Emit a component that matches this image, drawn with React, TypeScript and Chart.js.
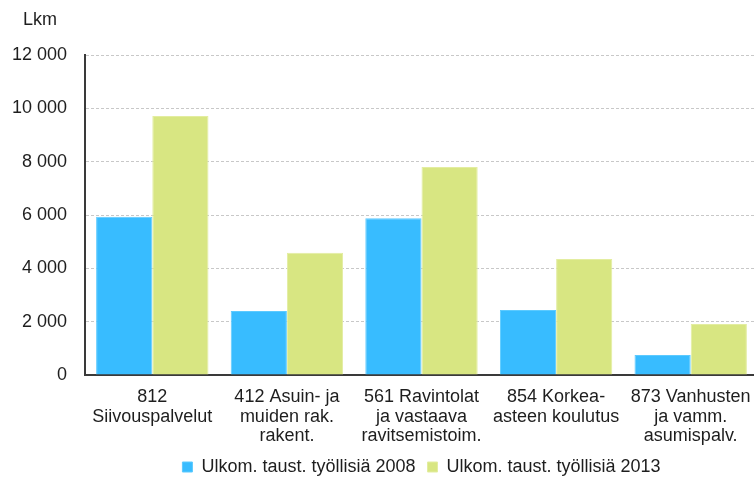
import React, { useEffect, useRef } from "react";
import { Chart, registerables } from "chart.js";

Chart.register(...registerables);

const categories: string[][] = [
  ["812", "Siivouspalvelut"],
  ["412 Asuin- ja", "muiden rak.", "rakent."],
  ["561 Ravintolat", "ja vastaava", "ravitsemistoim."],
  ["854 Korkea-", "asteen koulutus"],
  ["873 Vanhusten", "ja vamm.", "asumispalv."],
];

const series2008Label = "Ulkom. taust. työllisiä 2008";
const series2013Label = "Ulkom. taust. työllisiä 2013";
const values2008: number[] = [5930, 2400, 5880, 2440, 750];
const values2013: number[] = [9710, 4580, 7800, 4350, 1910];

const yMin = 0;
const yMax = 12000;
const yStep = 2000;
const yTitle = "Lkm";

const FONT = "'Liberation Sans', Arial, sans-serif";
const TEXT = "#1e1e1e";

const unitLabelPlugin = {
  id: "unitLabel",
  afterDraw(chart: any) {
    const ctx = chart.ctx;
    ctx.save();
    ctx.font = `18px ${FONT}`;
    ctx.fillStyle = TEXT;
    ctx.textAlign = "left";
    ctx.textBaseline = "middle";
    ctx.fillText(yTitle, 23, 20);
    ctx.restore();
  },
};

export default function App() {
  const ref = useRef<HTMLCanvasElement | null>(null);

  useEffect(() => {
    if (!ref.current) return;
    const chart = new Chart(ref.current, {
      type: "bar",
      data: {
        labels: categories,
        datasets: [
          {
            label: series2008Label,
            data: values2008,
            backgroundColor: "#38bcff",
            borderColor: "#5ccaff",
            borderWidth: 1,
            categoryPercentage: 0.835,
            barPercentage: 1.0,
          },
          {
            label: series2013Label,
            data: values2013,
            backgroundColor: "#d8e682",
            borderColor: "#e3eda0",
            borderWidth: 1,
            categoryPercentage: 0.835,
            barPercentage: 1.0,
          },
        ],
      },
      plugins: [unitLabelPlugin],
      options: {
        responsive: false,
        animation: false,
        layout: { padding: { left: 0, right: 0, top: 55, bottom: 0 } },
        plugins: {
          tooltip: { enabled: false },
          title: { display: false },
          legend: {
            position: "bottom",
            fullSize: false,
            labels: {
              color: TEXT,
              font: { family: FONT, size: 18 },
              boxWidth: 10,
              boxHeight: 10,
              padding: 12,
            },
          },
        },
        scales: {
          x: {
            grid: { display: false, drawTicks: false },
            border: { display: true, color: "#3a3a3a", width: 2 },
            ticks: {
              color: TEXT,
              font: { family: FONT, size: 18, lineHeight: 1.1 },
              padding: 12,
              maxRotation: 0,
              autoSkip: false,
            },
            afterFit: (s: any) => {
              s.height = 71;
              s.paddingLeft = 0;
              s.paddingRight = 0;
            },
          },
          y: {
            min: yMin,
            max: yMax,
            grid: {
              color: "#c8c8c8",
              lineWidth: 1,
              drawTicks: false,
            },
            border: { display: true, color: "#3a3a3a", width: 2, dash: [3, 2] },
            ticks: {
              stepSize: yStep,
              color: TEXT,
              font: { family: FONT, size: 18 },
              padding: 18,
              callback: (v: any) =>
                String(v).replace(/\B(?=(\d{3})+(?!\d))/g, " "),
            },
            afterFit: (s: any) => {
              s.width = 85;
            },
          },
        },
      },
    });
    return () => chart.destroy();
  }, []);

  return (
    <div
      style={{
        position: "fixed",
        left: 0,
        top: 0,
        width: 754,
        height: 477,
        overflow: "hidden",
        background: "#fff",
      }}
    >
      <canvas ref={ref} width={758} height={486} style={{ width: 758, height: 486, display: "block" }} />
    </div>
  );
}
